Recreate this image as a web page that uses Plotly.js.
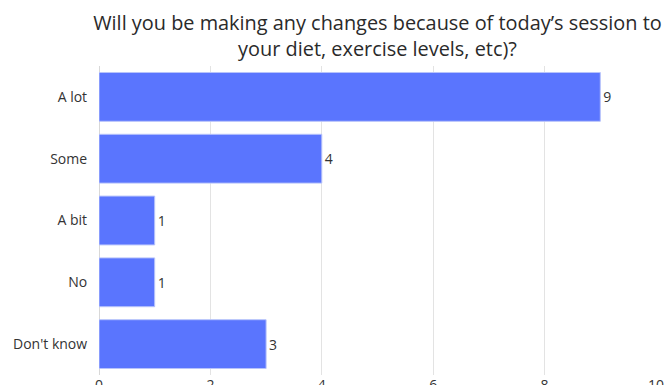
<!DOCTYPE html>
<html>
<head>
<meta charset="utf-8">
<script src="https://cdn.plot.ly/plotly-3.0.1.min.js"></script>
<style>html,body{margin:0;padding:0;background:#fff;}#chart{width:665px;height:385px;}</style>
</head>
<body>
<div id="chart"></div>
<script>
const categories = ["A lot", "Some", "A bit", "No", "Don't know"];
const values = [9, 4, 1, 1, 3];
const tickVals = [0, 2, 4, 6, 8, 10];
const titleText = "Will you be making any changes because of today’s session to<br>your diet, exercise levels, etc)?";

const font = "'Open Sans', 'DejaVu Sans', sans-serif";
Plotly.newPlot('chart', [{
  type: 'bar',
  orientation: 'h',
  y: categories,
  x: values,
  text: values.map(String),
  textposition: 'outside',
  cliponaxis: false,
  textfont: {family: font, size: 14, color: '#333'},
  marker: {color: '#5A75FE', line: {color: '#B8C4FB', width: 1}},
  width: 0.79,
  hoverinfo: 'none'
}], {
  width: 665, height: 385,
  margin: {l: 99, r: 8.5, t: 65.5, b: 9.5},
  paper_bgcolor: '#fff', plot_bgcolor: '#fff',
  showlegend: false,
  title: {text: titleText, x: 0.5, xref: 'paper', yref: 'container', y: 0.922, yanchor: 'middle',
          font: {family: font, size: 19.9, color: '#2a2a2a'}},
  xaxis: {range: [0, 10], tickvals: tickVals, showgrid: true, gridcolor: '#e3e3e3',
          zeroline: true, zerolinecolor: '#d8d8d8', zerolinewidth: 1, showline: false,
          ticks: '', tickfont: {family: font, size: 14, color: '#333'}, fixedrange: true},
  yaxis: {autorange: 'reversed', ticks: '', ticklen: 0, showgrid: false, zeroline: false,
          tickfont: {family: font, size: 14, color: '#333'}, ticksuffix: '   ', fixedrange: true}
}, {staticPlot: true, displayModeBar: false});
</script>
</body>
</html>
